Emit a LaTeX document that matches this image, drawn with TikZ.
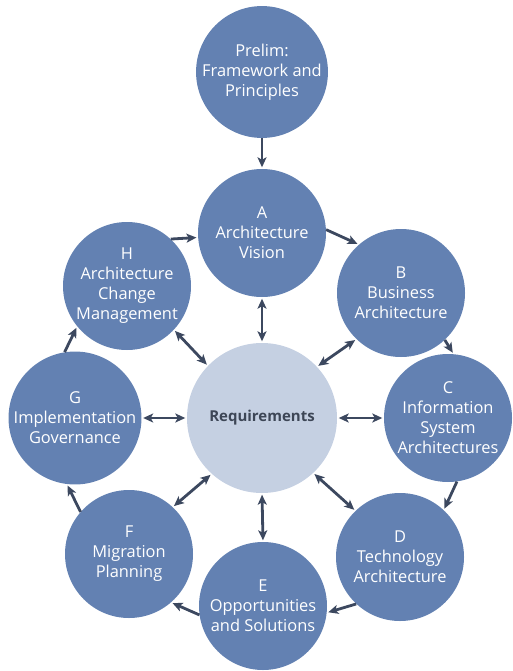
\documentclass[tikz,border=0pt]{standalone}
\usepackage{fontspec}
\setmainfont{Open Sans}
\usetikzlibrary{arrows.meta}
\definecolor{phaseblue}{RGB}{99,129,178}
\definecolor{reqblue}{RGB}{197,208,226}
\definecolor{arrowgray}{RGB}{60,72,95}
\definecolor{reqtext}{RGB}{61,70,86}

\begin{document}
\begin{tikzpicture}[x=1pt,y=-1pt,
    pnode/.style={circle,fill=phaseblue,text=white,minimum size=128pt,inner sep=0pt,align=center,font=\fontsize{16.4}{20}\selectfont},
    rnode/.style={circle,fill=reqblue,text=reqtext,minimum size=150pt,inner sep=0pt,font=\bfseries\fontsize{15}{18}\selectfont},
    >={Stealth[length=10pt,width=9pt,inset=2.5pt]},
    link/.style={->,draw=arrowgray,line width=2.8pt,shorten >=1.5pt},
    both/.style={<->,draw=arrowgray,line width=2.8pt,shorten >=1.5pt,shorten <=1.5pt}]
    \useasboundingbox (0,0) rectangle (512,671);

    \node[pnode,minimum size=130pt] (P) at (262,72) {Prelim:\\Framework and\\Principles};
    \node[rnode] (R) at (262,418) {Requirements};
    \node[pnode] (A) at (262,233) {A\\Architecture\\Vision};
    \node[pnode] (B) at (401,293) {B\\Business\\Architecture};
    \node[pnode] (C) at (448,418) {C\\Information\\System\\Architectures};
    \node[pnode] (D) at (400,557) {D\\Technology\\Architecture};
    \node[pnode] (E) at (263,606) {E\\Opportunities\\and Solutions};
    \node[pnode] (F) at (129,554) {F\\Migration\\Planning};
    \node[pnode] (G) at (75,418) {G\\Implementation\\Governance};
    \node[pnode] (H) at (127,286) {H\\Architecture\\Change\\Management};

    % cycle of phases
    \draw[link] (P.south) -- (A.north);
    \draw[link] (A.3) -- (B.131);
    \draw[link] (B.-47) -- (C.85);
    \draw[link] (C.-82) -- (D.47);
    \draw[link] (D.-133) -- (E.-6);
    \draw[link] (E.188) -- (F.-49);
    \draw[link] (F.139) -- (G.-97);
    \draw[link] (G.99) -- (H.-141);
    \draw[link] (H.47) -- (A.184);

    % requirements to every phase
    \draw[both] (R.north) -- (A.south);
    \draw[both] (R.43) -- (B.-134);
    \draw[both] (R.east) -- (C.west);
    \draw[both] (R.-47) -- (D.134);
    \draw[both] (R.south) -- (E.north);
    \draw[both] (R.-132) -- (F.47);
    \draw[both] (R.west) -- (G.east);
    \draw[both] (R.136) -- (H.-43);
\end{tikzpicture}
\end{document}
